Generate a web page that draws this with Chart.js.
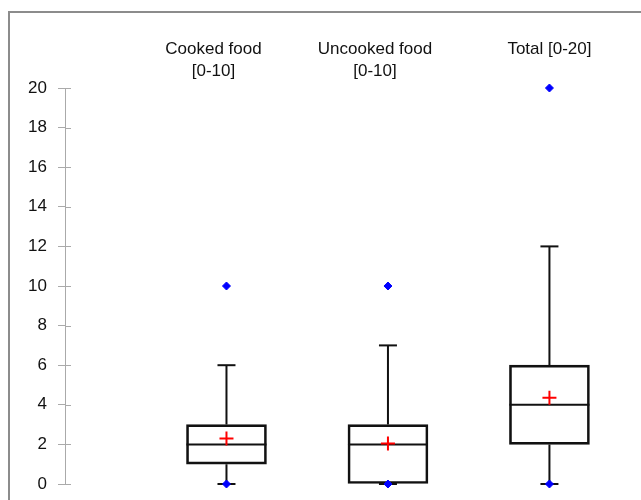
<!DOCTYPE html>
<html>
<head>
<meta charset="utf-8">
<script src="https://cdn.jsdelivr.net/npm/chart.js@4"></script>
<style>
  html, body { margin: 0; padding: 0; background: #fff; overflow: hidden; }
  #wrap { width: 641px; height: 500px; }
</style>
</head>
<body>
<div id="wrap"><canvas id="boxChart" width="641" height="500"></canvas></div>
<script>
// box plot values
const categories = [['Cooked food', '[0-10]'], ['Uncooked food', '[0-10]'], ['Total [0-20]']]
const positions = [1, 2, 3]
const q1 = [1, 0, 2]
const median = [2, 2, 4]
const q3 = [3, 3, 6]
const whiskerLow = [0, 0, 0]
const whiskerHigh = [6, 7, 12]
const means = [2.3, 2.05, 4.35]
const minimums = [0, 0, 0]
const maximums = [10, 10, 20]
const yTicks = [0, 2, 4, 6, 8, 10, 12, 14, 16, 18, 20]

const FONT = '"Liberation Sans", Arial, sans-serif'

const boxes = positions.map((x, i) => ({ x: x, y: [q1[i], q3[i]] }))
const medians = positions.map((x, i) => ({ x: x, y: median[i] }))
const caps = []
const whiskers = []
positions.forEach((x, i) => {
  caps.push({ x: x, y: whiskerLow[i] })
  caps.push({ x: x, y: whiskerHigh[i] })
  whiskers.push({ x: x, y: whiskerLow[i] }, { x: x, y: q1[i] }, { x: x, y: null })
  whiskers.push({ x: x, y: q3[i] }, { x: x, y: whiskerHigh[i] }, { x: x, y: null })
})
const meanPts = positions.map((x, i) => ({ x: x, y: means[i] }))
const extremes = []
positions.forEach((x, i) => {
  extremes.push({ x: x, y: minimums[i] })
  extremes.push({ x: x, y: maximums[i] })
})

// frame, inner half of the tick marks, and the category headings
const decorations = {
  id: 'decorations',
  beforeDraw (chart) {
    const ctx = chart.ctx
    ctx.save()
    ctx.strokeStyle = '#8c8c8c'
    ctx.lineWidth = 2
    ctx.strokeRect(9, 12, 700, 600)
    ctx.restore()
  },
  afterDraw (chart) {
    const ctx = chart.ctx
    const xs = chart.scales.x
    const ys = chart.scales.y
    ctx.save()
    ctx.strokeStyle = '#aaaaaa'
    ctx.lineWidth = 1
    yTicks.forEach(v => {
      const py = Math.round(ys.getPixelForValue(v)) + 0.5
      ctx.beginPath()
      ctx.moveTo(ys.right, py)
      ctx.lineTo(ys.right + 6, py)
      ctx.stroke()
    })
    ctx.fillStyle = '#111'
    ctx.font = '17px ' + FONT
    ctx.textAlign = 'center'
    ctx.textBaseline = 'middle'
    categories.forEach((lines, i) => {
      const px = xs.getPixelForValue(positions[i]) - (lines.length > 1 ? 13 : 0)
      lines.forEach((t, j) => {
        ctx.fillText(t, px, 49 + j * 22)
      })
    })
    ctx.restore()
  }
}

const ctx = document.getElementById('boxChart').getContext('2d')
const chart = new Chart(ctx, {
  type: 'bar',
  data: {
    datasets: [
      {
        type: 'scatter',
        label: 'whiskers',
        data: whiskers,
        showLine: true,
        spanGaps: false,
        borderColor: '#111',
        borderWidth: 2,
        pointRadius: 0,
        clip: false,
        order: 6
      },
      {
        type: 'bar',
        label: 'box',
        data: boxes,
        backgroundColor: 'rgba(255,255,255,0)',
        borderColor: '#111',
        borderWidth: 2,
        borderSkipped: false,
        barThickness: 80,
        clip: false,
        order: 5
      },
      {
        type: 'scatter',
        label: 'median',
        data: medians,
        pointStyle: 'line',
        pointRadius: 40,
        borderColor: '#111',
        borderWidth: 2,
        clip: false,
        order: 4
      },
      {
        type: 'scatter',
        label: 'caps',
        data: caps,
        pointStyle: 'line',
        pointRadius: 9,
        borderColor: '#111',
        borderWidth: 2,
        clip: false,
        order: 3
      },
      {
        type: 'scatter',
        label: 'min/max',
        data: extremes,
        pointStyle: 'rectRot',
        pointRadius: 4,
        backgroundColor: '#0000ff',
        borderColor: '#0000ff',
        borderWidth: 1,
        clip: false,
        order: 1
      },
      {
        type: 'scatter',
        label: 'mean',
        data: meanPts,
        pointStyle: 'cross',
        pointRadius: 7,
        borderColor: '#ff0000',
        borderWidth: 2,
        clip: false,
        order: 0
      }
    ]
  },
  options: {
    responsive: false,
    animation: false,
    layout: { autoPadding: false, padding: { top: 88, bottom: 16, left: 0, right: 0 } },
    plugins: {
      legend: { display: false },
      tooltip: { enabled: false }
    },
    scales: {
      x: {
        type: 'linear',
        display: false,
        offset: false,
        min: 0,
        max: 3.567
      },
      y: {
        min: 0,
        max: 20,
        afterFit (scale) {
          scale.width = 65
          scale.paddingTop = 0
          scale.paddingBottom = 0
        },
        afterBuildTicks (scale) { scale.ticks = yTicks.map(v => ({ value: v })) },
        grid: {
          drawOnChartArea: false,
          drawTicks: true,
          tickLength: 7,
          color: '#aaaaaa'
        },
        border: { color: '#aaaaaa', width: 1 },
        ticks: {
          color: '#111',
          padding: 11,
          font: { size: 17, family: FONT }
        }
      }
    }
  },
  plugins: [decorations]
})
</script>
</body>
</html>
